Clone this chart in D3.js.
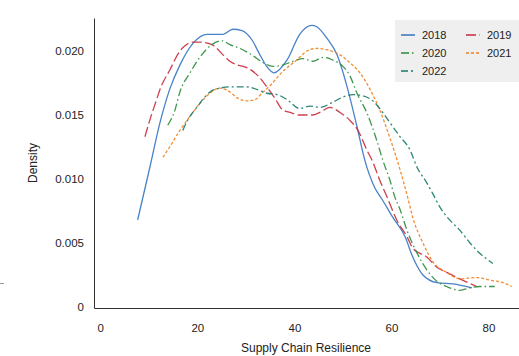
<!DOCTYPE html>
<html><head><meta charset="utf-8">
<script src="https://cdn.jsdelivr.net/npm/d3@7"></script>
<style>body{margin:0;background:#fff}svg{display:block}text{font-family:"Liberation Sans",Arial,sans-serif;fill:#222}</style>
</head><body><svg id="c" width="519" height="356"></svg>
<script>
const years = ["2018","2019","2020","2021","2022"];
const x2018 = [7.7,10.2,12.3,14.3,16.4,19.1,22.0,25.3,27.3,29.2,31.2,32.9,34.3,35.8,38.5,41.1,43.6,44.6,46.7,48.8,50.8,52.9,54.5,56.6,58.1,60.3,62.8,64.4,66.5,69.4,72.7,76.6];
const y2018 = [0.0068,0.0109,0.0144,0.0170,0.0189,0.0206,0.0213,0.0213,0.0217,0.0216,0.0209,0.0197,0.0188,0.0183,0.0193,0.0213,0.0220,0.0219,0.0210,0.0197,0.0173,0.0141,0.0115,0.0093,0.0084,0.0070,0.0055,0.0039,0.0025,0.0019,0.0018,0.0015];
const x2019 = [9.2,10.2,11.6,12.3,14.3,16.4,17.4,19.1,20.5,23.0,25.3,26.7,28.4,30.2,32.9,34.5,36.0,37.6,39.1,41.1,43.8,45.7,47.3,49.4,51.4,53.1,54.9,56.2,57.6,59.1,61.1,63.2,64.4,67.3,69.4,71.4,74.1,77.6];
const y2019 = [0.0133,0.0146,0.0162,0.0170,0.0185,0.0200,0.0204,0.0207,0.0207,0.0205,0.0197,0.0192,0.0189,0.0187,0.0179,0.0171,0.0163,0.0154,0.0152,0.0150,0.0150,0.0153,0.0156,0.0152,0.0146,0.0138,0.0123,0.0113,0.0099,0.0086,0.0068,0.0055,0.0046,0.0039,0.0031,0.0027,0.0022,0.0016];
const x2020 = [13.9,15.4,16.4,18.5,20.5,23.0,25.1,26.7,28.8,31.2,33.5,35.6,37.6,39.7,41.8,43.8,45.9,47.9,50.0,51.4,52.9,54.9,57.0,58.2,59.7,60.7,61.8,63.2,65.3,67.3,69.4,71.4,74.1,76.2,78.2,81.3];
const y2020 = [0.0142,0.0154,0.0168,0.0183,0.0195,0.0205,0.0208,0.0205,0.0202,0.0197,0.0191,0.0188,0.0189,0.0192,0.0194,0.0192,0.0195,0.0193,0.0188,0.0181,0.0167,0.0152,0.0130,0.0115,0.0099,0.0086,0.0076,0.0060,0.0042,0.0029,0.0020,0.0016,0.0013,0.0015,0.0016,0.0016];
const x2021 = [12.9,14.3,16.4,18.5,20.5,22.6,24.6,26.3,28.4,30.2,31.9,33.3,35.0,37.6,40.5,42.6,44.6,46.7,49.4,51.4,53.5,55.6,57.6,59.7,61.8,63.4,64.4,66.5,68.6,71.4,74.1,77.6,80.3,83.0,84.8];
const y2021 = [0.0117,0.0125,0.0138,0.0149,0.0159,0.0167,0.0171,0.0169,0.0163,0.0161,0.0162,0.0167,0.0173,0.0184,0.0193,0.0200,0.0202,0.0201,0.0197,0.0191,0.0183,0.0170,0.0154,0.0132,0.0107,0.0085,0.0070,0.0050,0.0035,0.0027,0.0022,0.0023,0.0021,0.0019,0.0016];
const x2022 = [17.0,18.0,19.9,22.6,24.6,27.3,30.2,32.3,34.3,36.4,38.5,41.1,43.2,45.3,47.9,50.0,52.1,54.1,56.2,58.2,59.7,61.8,63.8,65.3,67.3,68.6,70.0,72.0,74.1,76.2,78.2,80.9];
const y2022 = [0.0138,0.0146,0.0156,0.0168,0.0171,0.0172,0.0172,0.0170,0.0167,0.0166,0.0162,0.0155,0.0157,0.0156,0.0160,0.0164,0.0166,0.0165,0.0161,0.0152,0.0144,0.0133,0.0123,0.0109,0.0097,0.0088,0.0078,0.0068,0.0060,0.0050,0.0042,0.0034];
const xTicks = [0,20,40,60,80];
const yTicks = [0,0.005,0.010,0.015,0.020];
const xLabel = "Supply Chain Resilience";
const yLabel = "Density";

const colors = ["#3474c2","#c92a3c","#2a8c3a","#f47f1e","#147a68"];
const dashes = [null,"10,3.5","8,3,1.5,3","3,2","7,3,2,3"];
const xs = [x2018,x2019,x2020,x2021,x2022];
const ys = [y2018,y2019,y2020,y2021,y2022];

const svg = d3.select("#c");
const x = d3.scaleLinear().domain([-1.3, 86.3]).range([94, 519]);
const y = d3.scaleLinear().domain([-0.00008, 0.02258]).range([308, 18]);

const xAxis = svg.append("g").attr("transform","translate(0,308)")
  .call(d3.axisBottom(x).tickValues(xTicks).tickSize(0).tickPadding(16).tickFormat(d3.format("d")));
xAxis.select(".domain").attr("stroke","#333");
const yAxis = svg.append("g").attr("transform","translate(94,0)")
  .call(d3.axisLeft(y).tickValues(yTicks).tickSize(0).tickPadding(10).tickFormat(d => d===0 ? "0" : d3.format(".3f")(d)));
yAxis.select(".domain").attr("stroke","#333");
svg.selectAll(".tick text").attr("font-size","11.5px").attr("font-family","Liberation Sans, Arial, sans-serif").attr("fill","#222");

svg.append("text").attr("x",306).attr("y",352).attr("text-anchor","middle").attr("font-size","12px").text(xLabel);
svg.append("text").attr("transform","translate(37,163) rotate(-90)").attr("text-anchor","middle").attr("font-size","12px").text(yLabel);
svg.append("line").attr("x1",0).attr("x2",4).attr("y1",283.5).attr("y2",283.5).attr("stroke","#999");

const line = d3.line().x(d=>x(d[0])).y(d=>y(d[1])).curve(d3.curveMonotoneX);
years.forEach((yr,i)=>{
  const pts = xs[i].map((v,j)=>[v, ys[i][j]]);
  svg.append("path").datum(pts).attr("d",line).attr("fill","none")
    .attr("stroke",colors[i]).attr("stroke-width",1.3).attr("stroke-opacity",0.9)
    .attr("stroke-dasharray",dashes[i]);
});

const lg = svg.append("g");
lg.append("rect").attr("x",395).attr("y",20).attr("width",124).attr("height",62).attr("fill","#efefef");
years.forEach((yr,i)=>{
  const col = i%2, row = Math.floor(i/2);
  const lx = 401 + col*65, ly = 35 + row*18;
  lg.append("line").attr("x1",lx).attr("x2",lx+14).attr("y1",ly).attr("y2",ly)
    .attr("stroke",colors[i]).attr("stroke-width",1.5).attr("stroke-dasharray",dashes[i]);
  lg.append("text").attr("x",lx+21).attr("y",ly).attr("dy","0.35em").attr("font-size","11px").text(yr);
});
</script></body></html>
